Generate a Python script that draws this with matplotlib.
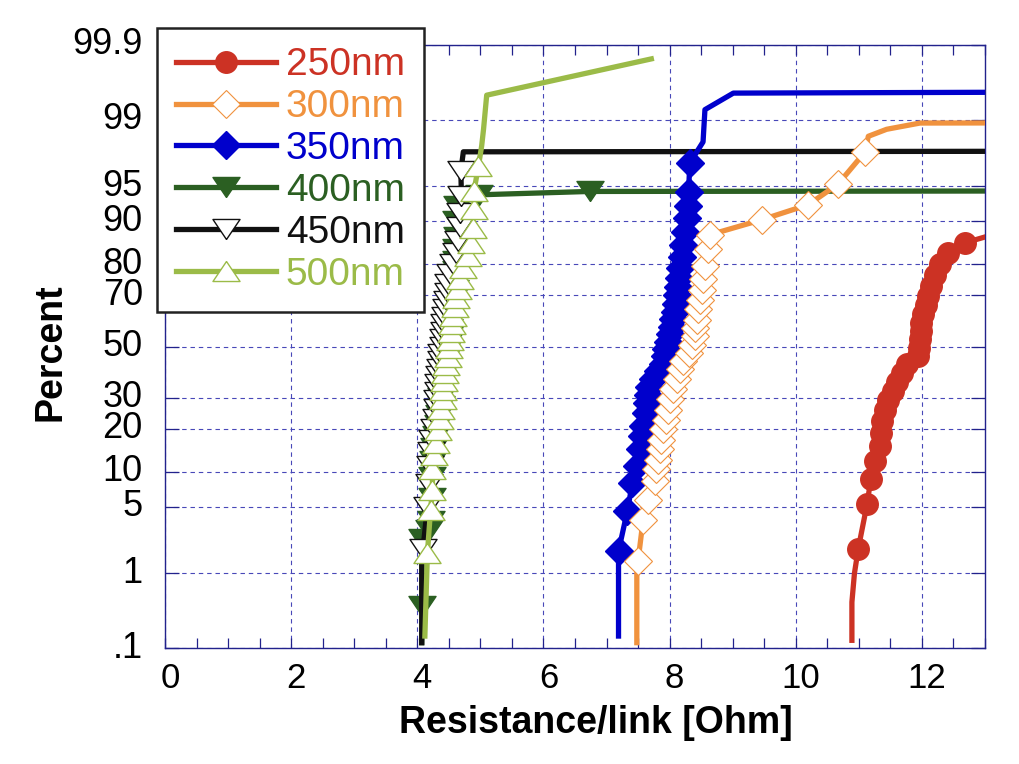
import numpy as np
import matplotlib
matplotlib.use("Agg")
import matplotlib.pyplot as plt
from matplotlib.lines import Line2D
from matplotlib.ticker import MultipleLocator
from matplotlib.transforms import ScaledTranslation
from statistics import NormalDist

plt.rcParams['font.family'] = ['Liberation Sans', 'DejaVu Sans']

# ---- data: cumulative percent vs resistance per link ----
r250_p = [0.13, 0.44, 1.0, 1.9, 5.3, 8.7, 12.1, 15.5, 18.9, 22.3, 25.7, 29.1, 32.5, 35.9, 39.3,
          42.7, 46.1, 49.5, 52.9, 56.3, 59.7, 63.1, 66.5, 69.9, 73.3, 76.7, 80.1, 83.0, 85.6, 90.5]
r250_x = [10.89, 10.89, 10.93, 10.99, 11.13, 11.19, 11.26, 11.33, 11.35, 11.37, 11.42, 11.47, 11.54,
          11.60, 11.68, 11.77, 11.94, 11.96, 11.97, 11.98, 11.99, 12.02, 12.06, 12.10, 12.15, 12.21,
          12.29, 12.42, 12.68, 14.0]

r300_p = [0.12, 1.0, 1.4, 3.8, 5.8, 8.4, 10.4, 12.3, 14.6, 17.0, 19.8, 22.7, 25.9, 29.4, 33.0, 36.8,
          40.7, 44.0, 47.4, 50.8, 54.2, 57.5, 60.9, 64.8, 68.5, 72.0, 75.4, 79.5, 84.0, 87.4, 90.3,
          92.7, 95.2, 97.7, 98.44, 98.7, 98.9, 98.92]
r300_x = [7.48, 7.48, 7.50, 7.58, 7.66, 7.77, 7.79, 7.82, 7.85, 7.87, 7.90, 7.94, 7.98, 8.01, 8.06,
          8.11, 8.16, 8.22, 8.30, 8.35, 8.40, 8.41, 8.43, 8.45, 8.48, 8.51, 8.53, 8.56, 8.61, 8.64,
          9.46, 10.20, 10.67, 11.10, 11.15, 11.44, 11.97, 20.0]

r350_p = [0.15, 1.8, 4.6, 8.1, 11.0, 14.6, 17.9, 20.7, 24.9, 28.0, 31.0, 34.0, 37.0, 40.0, 43.0,
          46.0, 49.0, 52.0, 55.0, 58.0, 61.0, 64.0, 67.0, 70.0, 73.0, 76.0, 79.0, 82.0, 85.0, 88.0,
          90.6, 92.5, 94.3, 97.0, 98.2, 99.24, 99.53, 99.56]
r350_x = [7.19, 7.19, 7.33, 7.41, 7.48, 7.53, 7.57, 7.58, 7.63, 7.645, 7.655, 7.68, 7.74, 7.81, 7.89,
          7.93, 7.95, 7.97, 8.00, 8.03, 8.06, 8.09, 8.10, 8.12, 8.14, 8.15, 8.16, 8.19, 8.22, 8.24,
          8.27, 8.29, 8.30, 8.32, 8.53, 8.56, 9.01, 20.0]

r400_p = [0.12, 0.39, 2.4, 3.0, 3.7, 6.0, 9.0, 12.0, 15.0, 18.0, 21.0, 24.0, 27.0, 30.0, 33.0, 36.0,
          39.0, 42.0, 45.0, 48.0, 51.0, 54.0, 57.0, 60.0, 63.0, 66.0, 69.0, 72.0, 75.0, 78.0, 81.0,
          84.0, 87.0, 90.0, 92.5, 94.0, 94.4, 94.5]
r400_x = [4.07, 4.08, 4.07, 4.18, 4.22, 4.23, 4.24, 4.25, 4.27, 4.30, 4.33, 4.35, 4.37, 4.38, 4.39,
          4.40, 4.42, 4.43, 4.45, 4.47, 4.48, 4.50, 4.51, 4.53, 4.54, 4.56, 4.58, 4.60, 4.61, 4.62,
          4.62, 4.62, 4.63, 4.62, 4.63, 4.98, 6.73, 20.0]

r450_p = [0.12, 1.3, 1.9, 5.0, 8.0, 11.0, 14.0, 17.0, 20.0, 23.0, 26.0, 29.0, 32.0, 35.0, 38.0, 41.0,
          44.0, 47.0, 50.0, 53.0, 56.0, 59.0, 62.0, 65.0, 68.0, 71.0, 74.0, 77.0, 80.0, 83.0, 86.0,
          89.0, 91.5, 93.8, 96.4, 97.7, 97.75]
r450_x = [4.07, 4.07, 4.09, 4.16, 4.18, 4.20, 4.22, 4.24, 4.27, 4.30, 4.31, 4.32, 4.33, 4.33, 4.35,
          4.36, 4.37, 4.38, 4.40, 4.41, 4.42, 4.43, 4.44, 4.45, 4.47, 4.48, 4.49, 4.52, 4.57, 4.61,
          4.64, 4.67, 4.68, 4.70, 4.69, 4.73, 20.0]

r500_p = [0.15, 1.7, 4.7, 7.1, 10.4, 13.4, 16.2, 19.5, 22.8, 26.1, 29.4, 32.7, 36.0, 39.3, 42.6, 45.9,
          49.2, 52.5, 55.8, 59.1, 62.4, 65.7, 69.0, 72.3, 75.6, 78.9, 82.2, 85.5, 88.8, 92.1, 94.5,
          96.8, 98.0, 98.7, 99.5, 99.84]
r500_x = [4.12, 4.16, 4.21, 4.24, 4.24, 4.26, 4.29, 4.33, 4.36, 4.38, 4.40, 4.41, 4.42, 4.44, 4.46,
          4.48, 4.50, 4.52, 4.54, 4.55, 4.57, 4.59, 4.62, 4.64, 4.68, 4.73, 4.80, 4.85, 4.88, 4.90,
          4.90, 4.97, 5.02, 5.05, 5.10, 7.71]

labels = ["250nm", "300nm", "350nm", "400nm", "450nm", "500nm"]
colors = ["#cc3224", "#f0923e", "#0000cc", "#2b5f22", "#111111", "#9bbb48"]
percent_ticks = [0.1, 1, 5, 10, 20, 30, 50, 70, 80, 90, 95, 99, 99.9]
percent_labels = [".1", "1", "5", "10", "20", "30", "50", "70", "80", "90", "95", "99", "99.9"]
x_ticks = [0, 2, 4, 6, 8, 10, 12]

# ---- normal probability scale ----
nd = NormalDist()
_ppf = np.vectorize(nd.inv_cdf, otypes=[float])
_cdf = np.vectorize(nd.cdf, otypes=[float])


def to_z(p):
    p = np.clip(np.asarray(p, dtype=float) / 100.0, 1e-9, 1 - 1e-9)
    return _ppf(p)


def from_z(z):
    return _cdf(np.asarray(z, dtype=float)) * 100.0


tri_up = [(0, 0.74), (-1, -0.74), (1, -0.74), (0, 0.74)]
tri_down = [(0, -0.74), (-1, 0.74), (1, 0.74), (0, -0.74)]

styles = [
    dict(marker='o', ms=15.5, mfc=colors[0], mec=colors[0], mew=1, zorder=7, every=slice(3, -1)),
    dict(marker='D', ms=14, mfc='white', mec=colors[1], mew=0.8, zorder=6, every=slice(2, -4)),
    dict(marker='D', ms=14, mfc=colors[2], mec=colors[2], mew=1, zorder=5, every=slice(1, -4)),
    dict(marker=tri_down, ms=19.5, mfc=colors[3], mec=colors[3], mew=1, zorder=2, every=slice(1, -1)),
    dict(marker=tri_down, ms=19.5, mfc='white', mec=colors[4], mew=1, zorder=3, every=slice(2, -2)),
    dict(marker=tri_up, ms=19.5, mfc='white', mec=colors[5], mew=1, zorder=4, every=slice(1, -4)),
]
series = [(r250_x, r250_p), (r300_x, r300_p), (r350_x, r350_p),
          (r400_x, r400_p), (r450_x, r450_p), (r500_x, r500_p)]

fig = plt.figure(figsize=(10.2, 7.64), dpi=100)
ax = fig.add_axes([165 / 1020, 1 - 648 / 764, 820 / 1020, 603 / 764])
ax.set_yscale('function', functions=(to_z, from_z))

navy = '#22228c'
handles = []
for (xs, ps), st, c, lab in zip(series, styles, colors, labels):
    ax.plot(xs, ps, color=c, lw=3.8, marker=st['marker'], ms=st['ms'], mfc=st['mfc'],
            mec=st['mec'], mew=st['mew'], markevery=st['every'], zorder=st['zorder'],
            solid_joinstyle='round')
    handles.append(Line2D([], [], color=c, lw=3.8, marker=st['marker'], ms=st['ms'],
                          mfc=st['mfc'], mec=st['mec'], mew=st['mew'], label=lab))

ax.set_xlim(0, 13)
ax.set_ylim(0.1, 99.9)
ax.set_xticks(x_ticks)
ax.set_xticklabels([str(t) for t in x_ticks])
ax.xaxis.set_minor_locator(MultipleLocator(0.5))
ax.set_yticks(percent_ticks)
ax.set_yticklabels(percent_labels)
ax.yaxis.set_minor_locator(matplotlib.ticker.NullLocator())

ax.tick_params(axis='x', which='both', direction='in', top=True, length=7, width=0.9,
               color=navy, labelsize=25, pad=10)
ax.tick_params(axis='y', which='major', direction='in', right=True, length=10, width=0.9,
               color=navy, labelsize=26, pad=16)
for sp in ax.spines.values():
    sp.set_color(navy)
    sp.set_linewidth(1.0)

ax.grid(True, which='major', color='#4848b8', linestyle=(0, (4, 3.5)), linewidth=0.8)
ax.set_axisbelow(True)

shift_up = ScaledTranslation(0, 4 / 100, fig.dpi_scale_trans)
for t in ax.get_yticklabels():
    t.set_transform(t.get_transform() + shift_up)
shift_right = ScaledTranslation(5 / 100, 0, fig.dpi_scale_trans)
for t in ax.get_xticklabels():
    t.set_transform(t.get_transform() + shift_right)

ax.set_xlabel("Resistance/link [Ohm]", fontsize=27, fontweight='bold')
ax.xaxis.set_label_coords(0.526, -0.094)
ax.set_ylabel("Percent", fontsize=27, fontweight='bold')
ax.yaxis.set_label_coords(-0.118, 0.49)

leg = ax.legend(handles=handles, loc='upper left', bbox_to_anchor=(157 / 1020, 1 - 28 / 764),
                bbox_transform=fig.transFigure, frameon=True, fancybox=False, numpoints=1,
                fontsize=28, handlelength=2.55, handletextpad=0.26, labelspacing=0.15,
                borderpad=0.5, borderaxespad=0, framealpha=1)
leg.get_frame().set_edgecolor('#222222')
leg.get_frame().set_linewidth(1.8)
for txt, c in zip(leg.get_texts(), colors):
    txt.set_color(c)
leg.set_zorder(20)

fig.savefig("out.png", dpi=100)
